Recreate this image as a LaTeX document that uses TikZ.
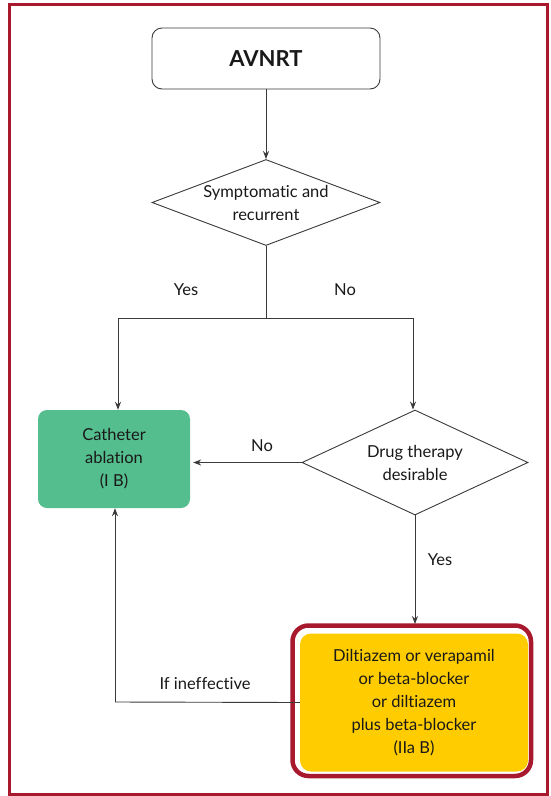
\documentclass[tikz,border=0pt]{standalone}
\usepackage{fontspec}
\setmainfont{Lato}[Ligatures=NoCommon]
\usetikzlibrary{shapes.geometric,arrows.meta}
\definecolor{frame}{HTML}{A8192E}
\definecolor{boxgreen}{HTML}{55BE8E}
\definecolor{boxyellow}{HTML}{FFCC00}
\definecolor{linegrey}{HTML}{3A3A3A}
\tikzset{
  every node/.style={font=\fontsize{16.5}{23}\selectfont, text=black!90},
  conn/.style={draw=linegrey, line width=0.9pt},
  arr/.style={conn, -{Stealth[length=8pt,width=6pt]}},
  startbox/.style={draw=linegrey, line width=0.9pt, rounded corners=10pt, fill=white,
    minimum width=228pt, minimum height=61pt, inner sep=0pt},
  decision/.style={diamond, draw=linegrey, line width=0.9pt, fill=white, inner sep=0pt, align=center},
  greenbox/.style={fill=boxgreen, rounded corners=9pt, minimum width=152pt, minimum height=98pt,
    inner sep=0pt, align=center},
  lbl/.style={inner sep=0pt}
}
\begin{document}
\begin{tikzpicture}[x=1pt,y=-1pt]
\useasboundingbox (0,0) rectangle (551,796);
\draw[frame, line width=3pt] (9.5,4.5) rectangle (547.5,794);

\node[startbox] (start) at (266,58.5) {\fontsize{22}{24}\selectfont\bfseries AVNRT};
\node[decision, aspect=2.65, minimum width=228pt, minimum height=86pt] (d1) at (266,202.5) {Symptomatic and\\recurrent};
\node[greenbox] (abl) at (114,459) {Catheter\\ablation\\(I B)};
\node[decision, aspect=2.15, minimum width=226pt, minimum height=105pt] (d2) at (415,462.5) {Drug therapy\\desirable};

% yellow box with red border
\draw[frame, line width=4.5pt, rounded corners=16pt] (292.5,625.5) rectangle (531,776);
\node[fill=boxyellow, rounded corners=11pt, minimum width=228pt, minimum height=138pt, inner sep=0pt, align=center]
  (drug) at (414,702.5) {Diltiazem or verapamil\\or beta-blocker\\or diltiazem\\plus beta-blocker\\(IIa B)};

\coordinate (split) at (266,318);
\coordinate (sl) at (118,318);
\coordinate (sr) at (413,318);
\coordinate (fb1) at (115,702);

\draw[arr] (start.south) -- (d1.north);
\draw[conn] (d1.south) -- (split);
\draw[conn] (sl) -- (sr);
\draw[arr] (sl) -- (sl |- abl.north);
\draw[arr] (sr) -- (sr |- d2.north);
\draw[arr] (d2.west) -- ([xshift=3pt]d2.west -| abl.east);
\draw[arr] (d2.south) -- (d2.south |- 0,624);
\draw[conn] (drug.west) -- (fb1);
\draw[arr] (fb1) -- (fb1 |- abl.south);

\node[lbl] (yes1) at (186,290) {Yes};
\node[lbl] (no1) at (345,290) {No};
\node[lbl] (no2) at (262,446) {No};
\node[lbl] (yes2) at (440,560) {Yes};
\node[lbl] (ineff) at (205,684) {If ineffective};
\end{tikzpicture}
\end{document}
